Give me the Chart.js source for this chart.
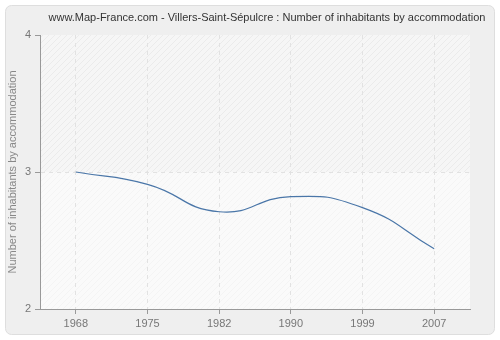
<!DOCTYPE html>
<html>
<head>
<meta charset="utf-8">
<script src="https://cdn.jsdelivr.net/npm/chart.js@4/dist/chart.umd.min.js"></script>
<style>
  html, body { margin: 0; padding: 0; background: #fff; }
  #wrap { width: 500px; height: 340px; }
</style>
</head>
<body>
<div id="wrap"><canvas id="lineChart" width="500" height="340"></canvas></div>
<script>
const years = ["1968", "1975", "1982", "1990", "1999", "2007"];
const inhabitants = [3.00, 2.91, 2.71, 2.82, 2.74, 2.44];
const yMin = 2;
const yMax = 4;
const chartTitle = "www.Map-France.com - Villers-Saint-Sépulcre : Number of inhabitants by accommodation";
const yTitle = "Number of inhabitants by accommodation";

function hatch(base, line) {
    let c = document.createElement("canvas");
    c.width = 6; c.height = 6;
    let g = c.getContext("2d");
    g.fillStyle = base;
    g.fillRect(0, 0, 6, 6);
    g.strokeStyle = line;
    g.lineWidth = 1;
    g.beginPath();
    g.moveTo(0, 6); g.lineTo(6, 0);
    g.moveTo(-1, 1); g.lineTo(1, -1);
    g.moveTo(5, 7); g.lineTo(7, 5);
    g.stroke();
    return g.createPattern(c, "repeat");
}

// panel, hatched plot background and title
const backdrop = {
    id: "backdrop",
    beforeDraw(chart) {
        let ctx = chart.ctx;
        let a = chart.chartArea;
        let y = chart.scales.y;
        ctx.save();
        ctx.fillStyle = "#fff";
        ctx.fillRect(0, 0, 500, 340);
        ctx.beginPath();
        ctx.roundRect(5.5, 5.5, 489, 329, 6);
        ctx.fillStyle = "#efefef";
        ctx.fill();
        ctx.strokeStyle = "#dedede";
        ctx.lineWidth = 1;
        ctx.stroke();

        let mid = y.getPixelForValue(3);
        ctx.fillStyle = hatch("#f6f6f6", "#ebebeb");
        ctx.fillRect(a.left, a.top, a.right - a.left, mid - a.top);
        ctx.fillStyle = hatch("#fafafa", "#f4f4f4");
        ctx.fillRect(a.left, mid, a.right - a.left, a.bottom - mid);

        ctx.fillStyle = "#333";
        ctx.font = "11px 'Liberation Sans', Arial, sans-serif";
        ctx.textAlign = "center";
        ctx.textBaseline = "middle";
        ctx.fillText(chartTitle, 267, 18);
        ctx.restore();
    }
};

let canvas = document.getElementById("lineChart");
let ctx = canvas.getContext("2d");
canvas.chart = new Chart(ctx, {
    type: "line",
    data: {
        labels: years,
        datasets: [{
            data: inhabitants,
            borderColor: "#4a76a8",
            borderWidth: 1.2,
            pointRadius: 0,
            fill: false,
            tension: 0.5,
        }],
    },
    options: {
        responsive: false,
        animation: false,
        layout: { padding: { top: 35, right: 30, bottom: 6, left: 0 } },
        plugins: {
            legend: { display: false },
            title: { display: false },
            tooltip: { enabled: false },
        },
        scales: {
            x: {
                offset: true,
                afterFit: function (scale) { scale.height = 25; },
                grid: {
                    offset: false,
                    color: "#e2e2e2",
                    tickColor: "#999",
                    tickBorderDash: [],
                    tickLength: 5,
                },
                border: { color: "#999", width: 1, dash: [4, 4] },
                ticks: {
                    color: "#777",
                    padding: 3,
                    font: { family: "'Liberation Sans', Arial, sans-serif", size: 11 },
                },
            },
            y: {
                min: yMin,
                max: yMax,
                afterFit: function (scale) { scale.width = 40; },
                grid: {
                    color: function (c) { return c.tick && c.tick.value === 3 ? "#e2e2e2" : "rgba(0,0,0,0)"; },
                    tickColor: "#999",
                    tickBorderDash: [],
                    tickLength: 5,
                },
                border: { color: "#999", width: 1, dash: [4, 4] },
                ticks: {
                    stepSize: 1,
                    color: "#777",
                    padding: 4,
                    font: { family: "'Liberation Sans', Arial, sans-serif", size: 11 },
                },
                title: {
                    display: true,
                    text: yTitle,
                    color: "#888",
                    padding: { top: 6, bottom: 0 },
                    font: { family: "'Liberation Sans', Arial, sans-serif", size: 11 },
                },
            },
        },
    },
    plugins: [backdrop],
});
</script>
</body>
</html>
